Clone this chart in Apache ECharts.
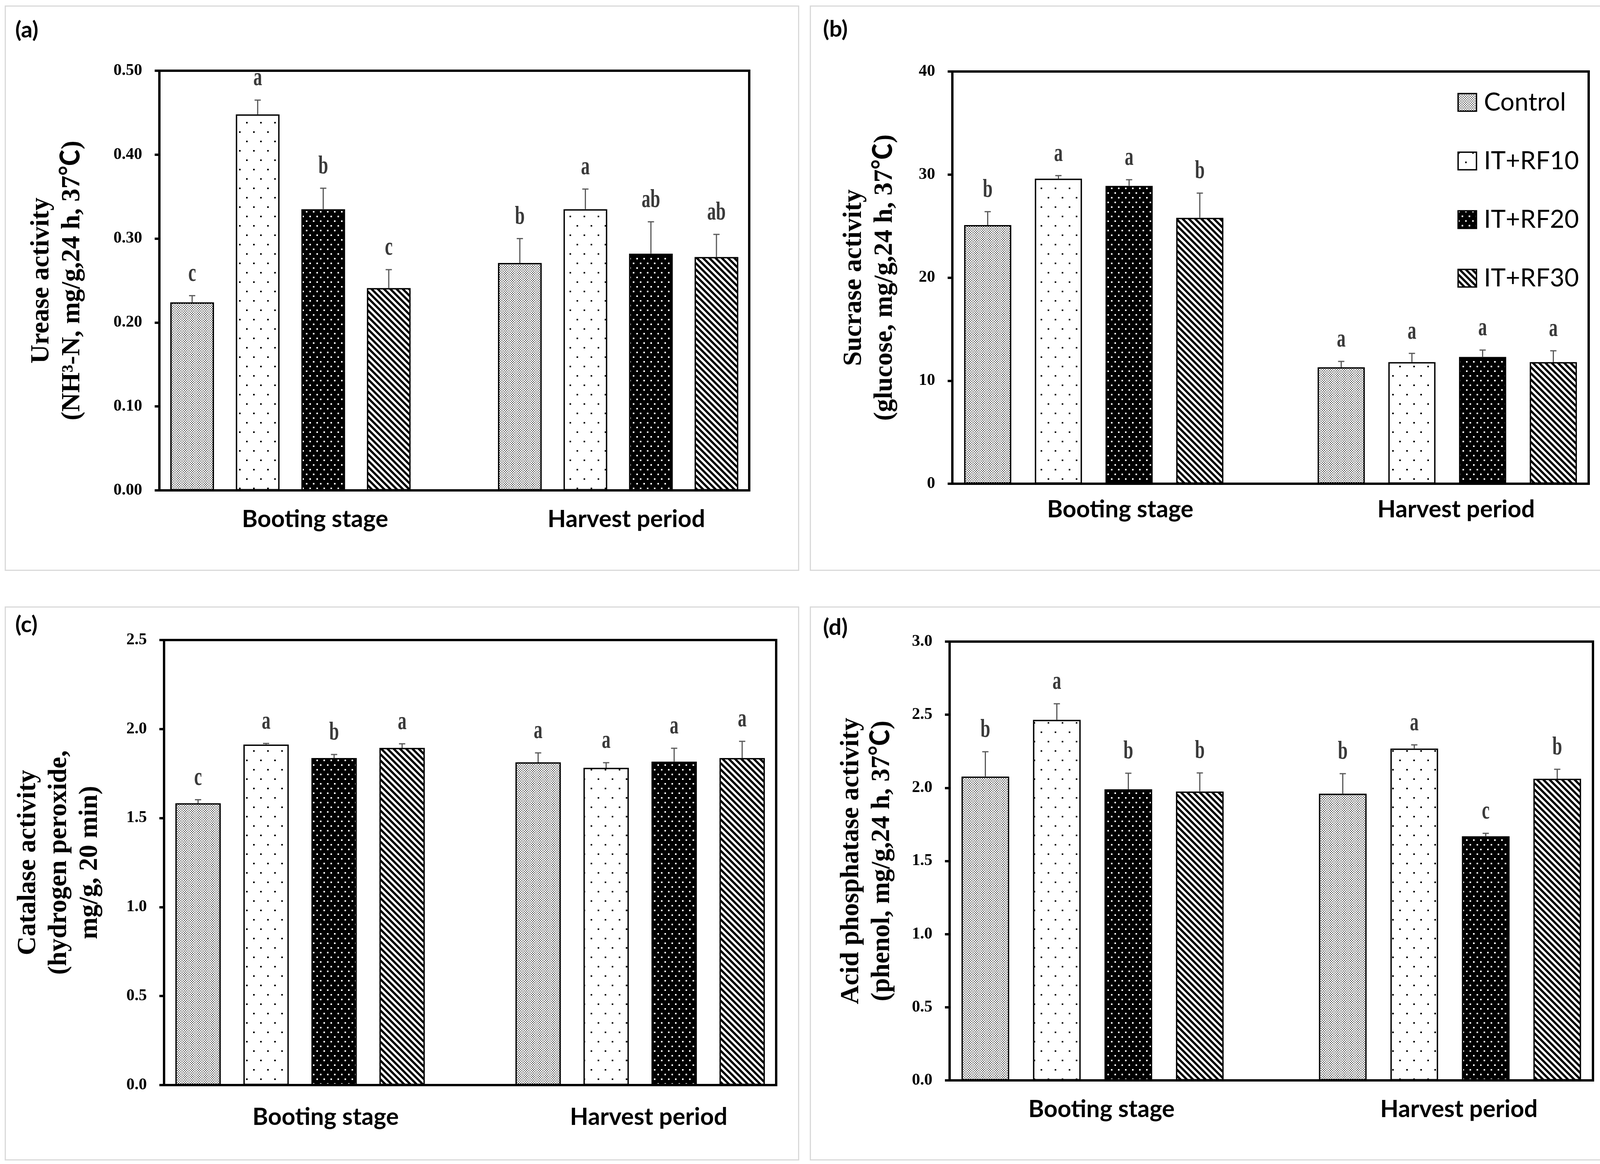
<!DOCTYPE html>
<html><head><meta charset="utf-8">
<script src="https://cdn.jsdelivr.net/npm/echarts@6/dist/echarts.min.js"></script>
<style>html,body{margin:0;padding:0;background:#fff}#c{width:4149px;height:2979px}</style>
</head><body><div id="c"></div>
<script>
// ---------- data ----------
const seriesNames = ['Control', 'IT+RF10', 'IT+RF20', 'IT+RF30'];
const stages = ['Booting stage', 'Harvest period'];

// (a) Urease activity
const ureaseBooting = [0.224, 0.448, 0.335, 0.241];
const ureaseHarvest = [0.271, 0.335, 0.282, 0.278];
const ureaseBootingErr = [0.008, 0.017, 0.025, 0.022];
const ureaseHarvestErr = [0.029, 0.024, 0.038, 0.027];
const ureaseBootingLetters = ['c', 'a', 'b', 'c'];
const ureaseHarvestLetters = ['b', 'a', 'ab', 'ab'];
const ureaseTicks = [0, 0.5, 0.1];

// (b) Sucrase activity
const sucraseBooting = [25.1, 29.6, 28.9, 25.8];
const sucraseHarvest = [11.3, 11.8, 12.3, 11.8];
const sucraseBootingErr = [1.3, 0.3, 0.6, 2.4];
const sucraseHarvestErr = [0.57, 0.85, 0.67, 1.1];
const sucraseBootingLetters = ['b', 'a', 'a', 'b'];
const sucraseHarvestLetters = ['a', 'a', 'a', 'a'];
const sucraseTicks = [0, 40, 10];

// (c) Catalase activity
const catalaseBooting = [1.583, 1.913, 1.837, 1.894];
const catalaseHarvest = [1.813, 1.782, 1.817, 1.837];
const catalaseBootingErr = [0.02, 0.006, 0.02, 0.023];
const catalaseHarvestErr = [0.053, 0.029, 0.075, 0.094];
const catalaseBootingLetters = ['c', 'a', 'b', 'a'];
const catalaseHarvestLetters = ['a', 'a', 'a', 'a'];
const catalaseTicks = [0, 2.5, 0.5];

// (d) Acid phosphatase activity
const phosphataseBooting = [2.077, 2.465, 1.990, 1.975];
const phosphataseHarvest = [1.960, 2.269, 1.669, 2.062];
const phosphataseBootingErr = [0.17, 0.11, 0.11, 0.127];
const phosphataseHarvestErr = [0.137, 0.025, 0.02, 0.065];
const phosphataseBootingLetters = ['b', 'a', 'b', 'b'];
const phosphataseHarvestLetters = ['b', 'a', 'c', 'b'];
const phosphataseTicks = [0, 3.0, 0.5];

// ---------- patterns ----------
function makePattern(w, h, bg, fg, fn) {
  const c = document.createElement('canvas');
  c.width = w; c.height = h;
  const ctx = c.getContext('2d');
  const img = ctx.createImageData(w, h);
  for (let y = 0; y < h; y++) for (let x = 0; x < w; x++) {
    const col = fn(x, y) ? fg : bg;
    const o = (y * w + x) * 4;
    img.data[o] = col; img.data[o + 1] = col; img.data[o + 2] = col; img.data[o + 3] = 255;
  }
  ctx.putImageData(img, 0, 0);
  return { image: c, repeat: 'repeat' };
}
const patterns = [
  makePattern(6, 6, 255, 0, (x, y) => (x < 2 && y < 2) || (x >= 3 && x < 5 && y >= 3 && y < 5)),
  makePattern(36, 48, 255, 0, (x, y) => (x < 4 && y < 4) || (x >= 18 && x < 22 && y >= 24 && y < 28)),
  makePattern(18, 24, 0, 255, (x, y) => (x < 4 && y < 4) || (x >= 9 && x < 13 && y >= 12 && y < 16)),
  makePattern(16, 16, 255, 0, (x, y) => (((x - y) % 16) + 16) % 16 < 8)
];

// ---------- panels ----------
const panels = [
  { grid: { left: 408, top: 181, width: 1510, height: 1074 }, ticks: ureaseTicks, dec: 2,
    title: 'Urease activity\n(NH³-N, mg/g,24 h, 37℃)', nameGap: 183, labelIdx: [9, 28], labelMargin: 44,
    b: ureaseBooting, h: ureaseHarvest, be: ureaseBootingErr, he: ureaseHarvestErr,
    bl: ureaseBootingLetters, hl: ureaseHarvestLetters },
  { grid: { left: 2438, top: 183, width: 1629, height: 1055 }, ticks: sucraseTicks, dec: 0,
    title: 'Sucrase activity\n(glucose, mg/g,24 h, 37℃)', nameGap: 133, labelIdx: [9, 28], labelMargin: 36,
    b: sucraseBooting, h: sucraseHarvest, be: sucraseBootingErr, he: sucraseHarvestErr,
    bl: sucraseBootingLetters, hl: sucraseHarvestLetters },
  { grid: { left: 420, top: 1638, width: 1567, height: 1139 }, ticks: catalaseTicks, dec: 1,
    title: 'Catalase activity\n(hydrogen peroxide,\nmg/g, 20 min)', nameGap: 150, labelIdx: [9, 28], labelMargin: 52,
    b: catalaseBooting, h: catalaseHarvest, be: catalaseBootingErr, he: catalaseHarvestErr,
    bl: catalaseBootingLetters, hl: catalaseHarvestLetters },
  { grid: { left: 2431, top: 1642, width: 1647, height: 1123 }, ticks: phosphataseTicks, dec: 1,
    title: 'Acid phosphatase activity\n(phenol, mg/g,24 h, 37℃)', nameGap: 133, labelIdx: [8, 28], labelMargin: 44,
    b: phosphataseBooting, h: phosphataseHarvest, be: phosphataseBootingErr, he: phosphataseHarvestErr,
    bl: phosphataseBootingLetters, hl: phosphataseHarvestLetters }
];

const SLOTS = 9;          // 4 bars, one empty slot, 4 bars
const LABEL_SLOTS = 36;   // quarter-slot positions for the stage labels
const grids = [], xAxes = [], yAxes = [], series = [];
const serifBold = '"Liberation Serif", "Times New Roman", "Noto Sans CJK SC", serif';

panels.forEach((p, k) => {
  grids.push(Object.assign({ show: true, borderColor: '#000', borderWidth: 6, backgroundColor: 'transparent' }, p.grid));
  xAxes.push({
    type: 'category', gridIndex: k, position: 'bottom',
    data: Array.from({ length: SLOTS }, (_, i) => 's' + i),
    boundaryGap: true,
    axisLine: { show: true, lineStyle: { color: '#000', width: 6 } },
    axisTick: { show: false }, axisLabel: { show: false }, splitLine: { show: false }
  });
  const labelData = Array.from({ length: LABEL_SLOTS }, () => '');
  labelData[p.labelIdx[0]] = stages[0];
  labelData[p.labelIdx[1]] = stages[1];
  xAxes.push({
    type: 'category', gridIndex: k, position: 'bottom', data: labelData,
    axisLine: { show: false }, axisTick: { show: false }, splitLine: { show: false },
    axisLabel: { interval: 0, hideOverlap: false, margin: p.labelMargin,
      fontFamily: 'Lato, "Open Sans", sans-serif', fontWeight: 'bold', fontSize: 61, color: '#000' }
  });
  yAxes.push({
    type: 'value', gridIndex: k, min: p.ticks[0], max: p.ticks[1], interval: p.ticks[2],
    axisLine: { show: true, lineStyle: { color: '#000', width: 6 } },
    axisTick: { show: true, inside: false, length: 12, lineStyle: { color: '#000', width: 6 } },
    splitLine: { show: false },
    axisLabel: { margin: 44, formatter: v => v.toFixed(p.dec), fontFamily: serifBold, fontWeight: 'bold', fontSize: 42, color: '#000' },
    name: p.title, nameLocation: 'middle', nameRotate: 90, nameGap: p.nameGap, nameMoveOverlap: false,
    nameTextStyle: { fontFamily: serifBold, fontWeight: 'bold', fontSize: 67, lineHeight: 79, color: '#000', align: 'center' }
  });
  seriesNames.forEach((nm, i) => {
    const arr = Array.from({ length: SLOTS }, () => '-');
    arr[i] = p.b[i];
    arr[5 + i] = p.h[i];
    series.push({
      type: 'bar', name: nm, xAxisIndex: 2 * k, yAxisIndex: k, data: arr,
      barWidth: '66.7%', barGap: '-100%', silent: true,
      itemStyle: { color: patterns[i], borderColor: '#000', borderWidth: 3.5 }
    });
  });
  const errData = [], letters = [];
  [[p.b, p.be, p.bl, 0], [p.h, p.he, p.hl, 5]].forEach(([m, e, l, off]) => {
    m.forEach((v, i) => { errData.push([off + i, v, e[i]]); letters.push(l[i]); });
  });
  series.push({
    type: 'custom', xAxisIndex: 2 * k, yAxisIndex: k, data: errData, z: 5, silent: true,
    encode: { x: 0, y: 1 },
    renderItem: (params, api) => {
      const x = api.value(0), m = api.value(1), e = api.value(2);
      const p0 = api.coord([x, m]);
      const p1 = api.coord([x, m + e]);
      const txt = letters[params.dataIndex];
      return {
        type: 'group', children: [
          { type: 'line', shape: { x1: p0[0], y1: p0[1], x2: p1[0], y2: p1[1] }, style: { stroke: '#595959', lineWidth: 3 } },
          { type: 'line', shape: { x1: p1[0] - 8, y1: p1[1], x2: p1[0] + 8, y2: p1[1] }, style: { stroke: '#595959', lineWidth: 3 } },
          { type: 'text', x: p1[0], y: p1[1] - 22, scaleY: 1.45,
            style: { text: txt, x: 0, y: 0, align: 'center', verticalAlign: 'bottom',
              font: 'bold 45px "Liberation Serif", serif', fill: '#3a3a3a' } }
        ]
      };
    }
  });
});

const boxes = [[11, 13], [2072, 13], [11, 1551], [2072, 1551]];
const boxSize = [[2031, 1444], [2064, 1444], [2031, 1415], [2064, 1415]];
const panelLabels = [['(a)', 39, 77], ['(b)', 2107, 75], ['(c)', 39, 1599], ['(d)', 2107, 1606]];
const graphic = [];
boxes.forEach((b, i) => graphic.push({ type: 'rect', left: b[0], top: b[1], z: -1, silent: true,
  shape: { width: boxSize[i][0], height: boxSize[i][1] }, style: { fill: 'none', stroke: '#d9d9d9', lineWidth: 3 } }));
panelLabels.forEach(l => graphic.push({ type: 'text', x: l[1], y: l[2], silent: true,
  style: { text: l[0], fill: '#000', font: 'bold 58px Lato, "Open Sans", sans-serif', verticalAlign: 'middle', align: 'left' } }));

const chart = echarts.init(document.getElementById('c'), null, { renderer: 'canvas' });
chart.setOption({
  animation: false,
  backgroundColor: '#fff',
  grid: grids, xAxis: xAxes, yAxis: yAxes, series: series, graphic: graphic,
  legend: {
    data: seriesNames, orient: 'vertical', left: 3726, top: 225,
    itemWidth: 47, itemHeight: 45, itemGap: 86, icon: 'rect', selectedMode: false,
    itemStyle: { borderColor: '#000', borderWidth: 3.5 },
    textStyle: { fontFamily: 'Lato, "Open Sans", sans-serif', fontSize: 64, color: '#000', padding: [0, 0, 0, 14] }
  }
});
</script></body></html>
